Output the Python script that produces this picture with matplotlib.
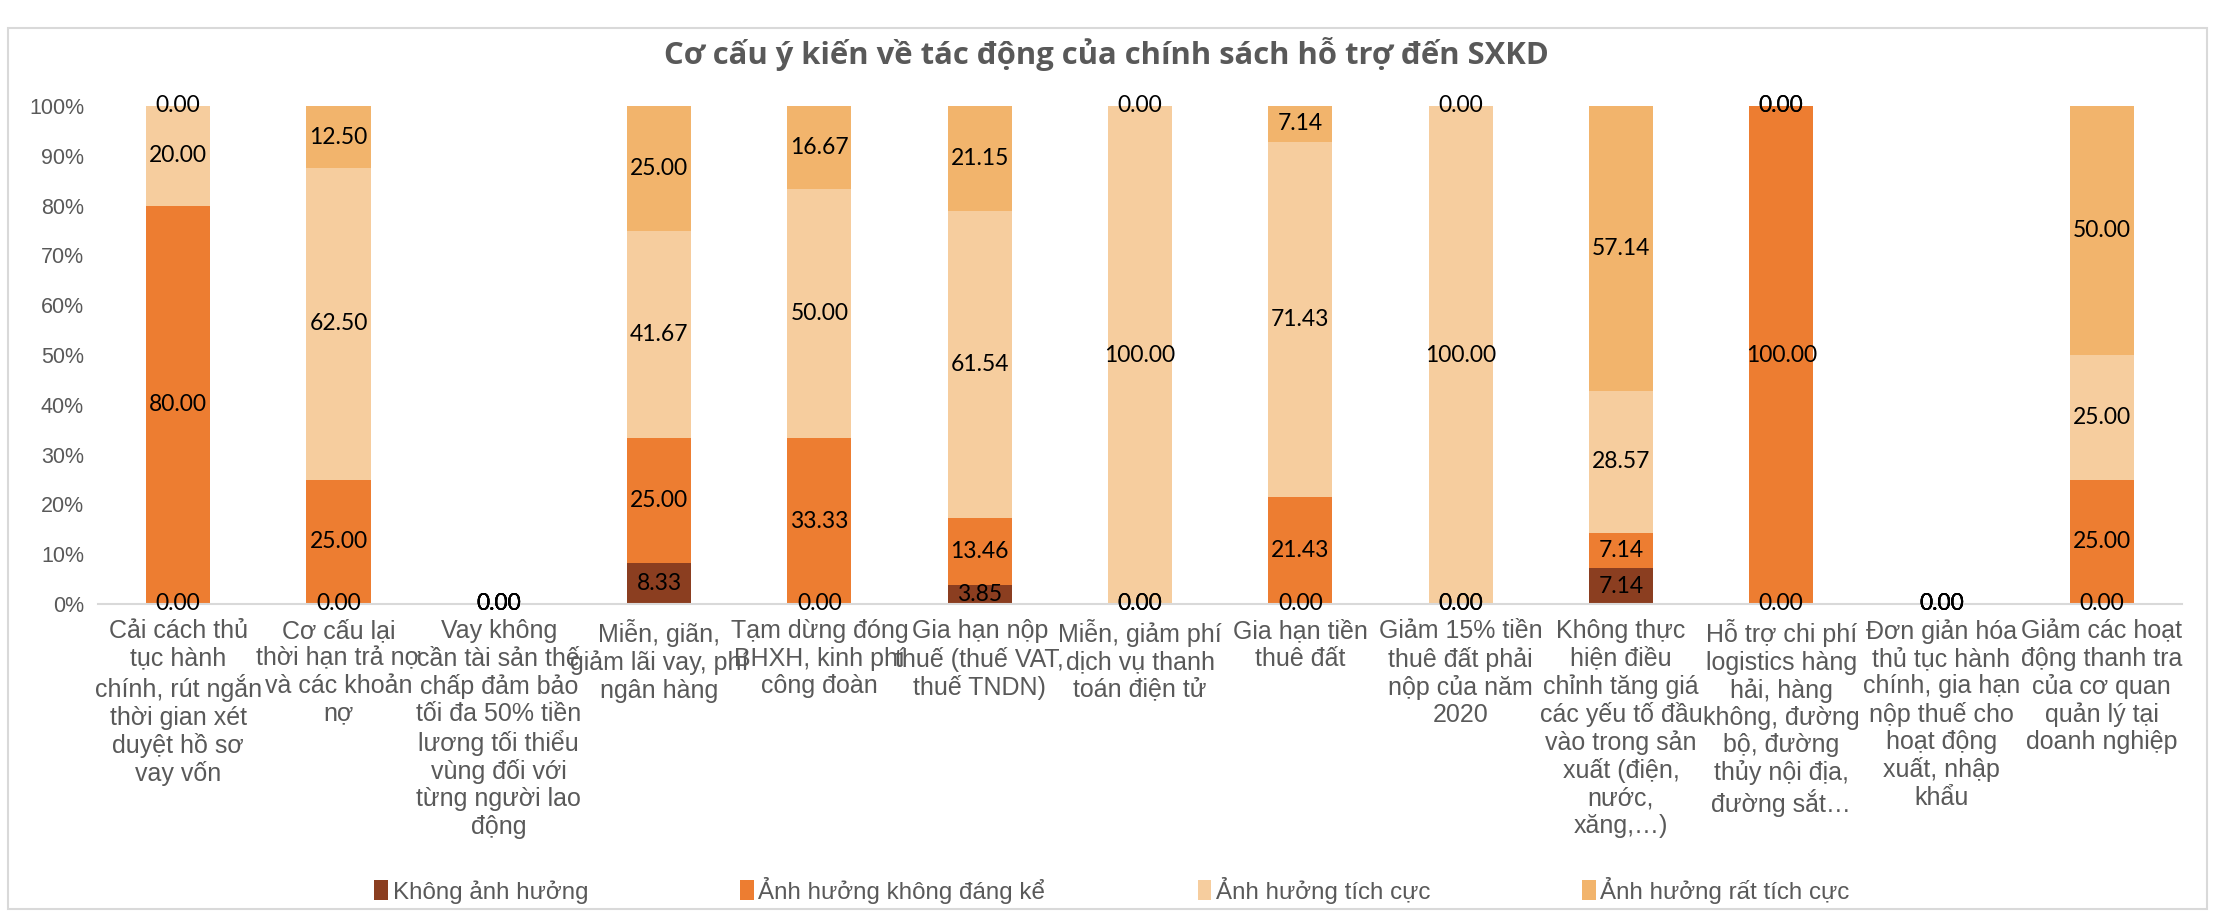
import matplotlib
matplotlib.use('Agg')
import matplotlib.pyplot as plt
import numpy as np
from matplotlib.patches import Rectangle

# Categories (policies) with manual line breaks as in the source chart
categories = [
    'Cải cách thủ\ntục hành\nchính, rút ngắn\nthời gian xét\nduyệt hồ sơ\nvay vốn',
    'Cơ cấu lại\nthời hạn trả nợ\nvà các khoản\nnợ',
    'Vay không\ncần tài sản thế\nchấp đảm bảo\ntối đa 50% tiền\nlương tối thiểu\nvùng đối với\ntừng người lao\nđộng',
    'Miễn, giãn,\ngiảm lãi vay, phí\nngân hàng',
    'Tạm dừng đóng\nBHXH, kinh phí\ncông đoàn',
    'Gia hạn nộp\nthuế (thuế VAT,\nthuế TNDN)',
    'Miễn, giảm phí\ndịch vụ thanh\ntoán điện tử',
    'Gia hạn tiền\nthuê đất',
    'Giảm 15% tiền\nthuê đất phải\nnộp của năm\n2020',
    'Không thực\nhiện điều\nchỉnh tăng giá\ncác yếu tố đầu\nvào trong sản\nxuất (điện,\nnước,\nxăng,…)',
    'Hỗ trợ chi phí\nlogistics hàng\nhải, hàng\nkhông, đường\nbộ, đường\nthủy nội địa,\nđường sắt…',
    'Đơn giản hóa\nthủ tục hành\nchính, gia hạn\nnộp thuế cho\nhoạt động\nxuất, nhập\nkhẩu',
    'Giảm các hoạt\nđộng thanh tra\ncủa cơ quan\nquản lý tại\ndoanh nghiệp',
]

series_names = ['Không ảnh hưởng', 'Ảnh hưởng không đáng kể',
                'Ảnh hưởng tích cực', 'Ảnh hưởng rất tích cực']

khong_anh_huong = [0, 0, 0, 8.33, 0, 3.85, 0, 0, 0, 7.14, 0, 0, 0]
khong_dang_ke = [80.00, 25.00, 0, 25.00, 33.33, 13.46, 0, 21.43, 0, 7.14, 100.00, 0, 25.00]
tich_cuc = [20.00, 62.50, 0, 41.67, 50.00, 61.54, 100.00, 71.43, 100.00, 28.57, 0, 0, 25.00]
rat_tich_cuc = [0, 12.50, 0, 25.00, 16.67, 21.15, 0, 7.14, 0, 57.14, 0, 0, 50.00]

colors = ['#8B3E20', '#ED7D31', '#F6CD9E', '#F2B46C']

plt.rcParams['font.family'] = ['Liberation Sans', 'DejaVu Sans']

fig = plt.figure(figsize=(22.13, 9.15), dpi=100)
ax = fig.add_axes([98 / 2213, 1 - 604 / 915, (2182 - 98) / 2213, (604 - 106) / 915])

x = np.arange(len(categories))
bottom = np.zeros(len(categories))
handles = []
for name, vals, col in zip(series_names,
                           [khong_anh_huong, khong_dang_ke, tich_cuc, rat_tich_cuc],
                           colors):
    vals = np.array(vals, dtype=float)
    bars = ax.bar(x, vals, bottom=bottom, width=0.4, color=col, label=name)
    ax.bar_label(bars, labels=[f'{v:.2f}' for v in vals], label_type='center',
                 fontsize=16.5, color='black', family=['Lato', 'DejaVu Sans'])
    bottom += vals
    handles.append(bars)

ax.set_xlim(-0.5, len(categories) - 0.5)
ax.set_ylim(0, 100)
ax.set_yticks(np.arange(0, 101, 10))
ax.set_yticklabels([f'{t}%' for t in range(0, 101, 10)])
ax.set_xticks(x)
ax.set_xticklabels(categories, fontsize=18, color='#595959', linespacing=1.17, va='top')
ax.tick_params(axis='y', labelsize=15.5, labelcolor='#595959', length=0, pad=10)
ax.tick_params(axis='x', length=0, pad=11)

for s in ['top', 'right', 'left']:
    ax.spines[s].set_visible(False)
ax.spines['bottom'].set_color('#D9D9D9')
ax.spines['bottom'].set_linewidth(1.5)

fig.text(0.5, 1 - 54 / 915, 'Cơ cấu ý kiến về tác động của chính sách hỗ trợ đến SXKD',
         ha='center', va='center', fontsize=22.3, fontweight='bold', color='#595959',
         family=['Open Sans', 'DejaVu Sans'])

fig.legend(handles=handles, labels=series_names, loc='center',
           bbox_to_anchor=(0.5025, 1 - 890 / 915), ncol=4, frameon=False,
           fontsize=17.4, labelcolor='#595959', handlelength=0.55, handleheight=0.9,
           handletextpad=0.2, columnspacing=6.3)

# light chart border
fig.patches.append(Rectangle((8 / 2213, 6 / 915), 1 - 14 / 2213, 1 - 34 / 915,
                             transform=fig.transFigure, fill=False,
                             edgecolor='#D9D9D9', linewidth=1.5))

fig.savefig('out.png', dpi=100)
